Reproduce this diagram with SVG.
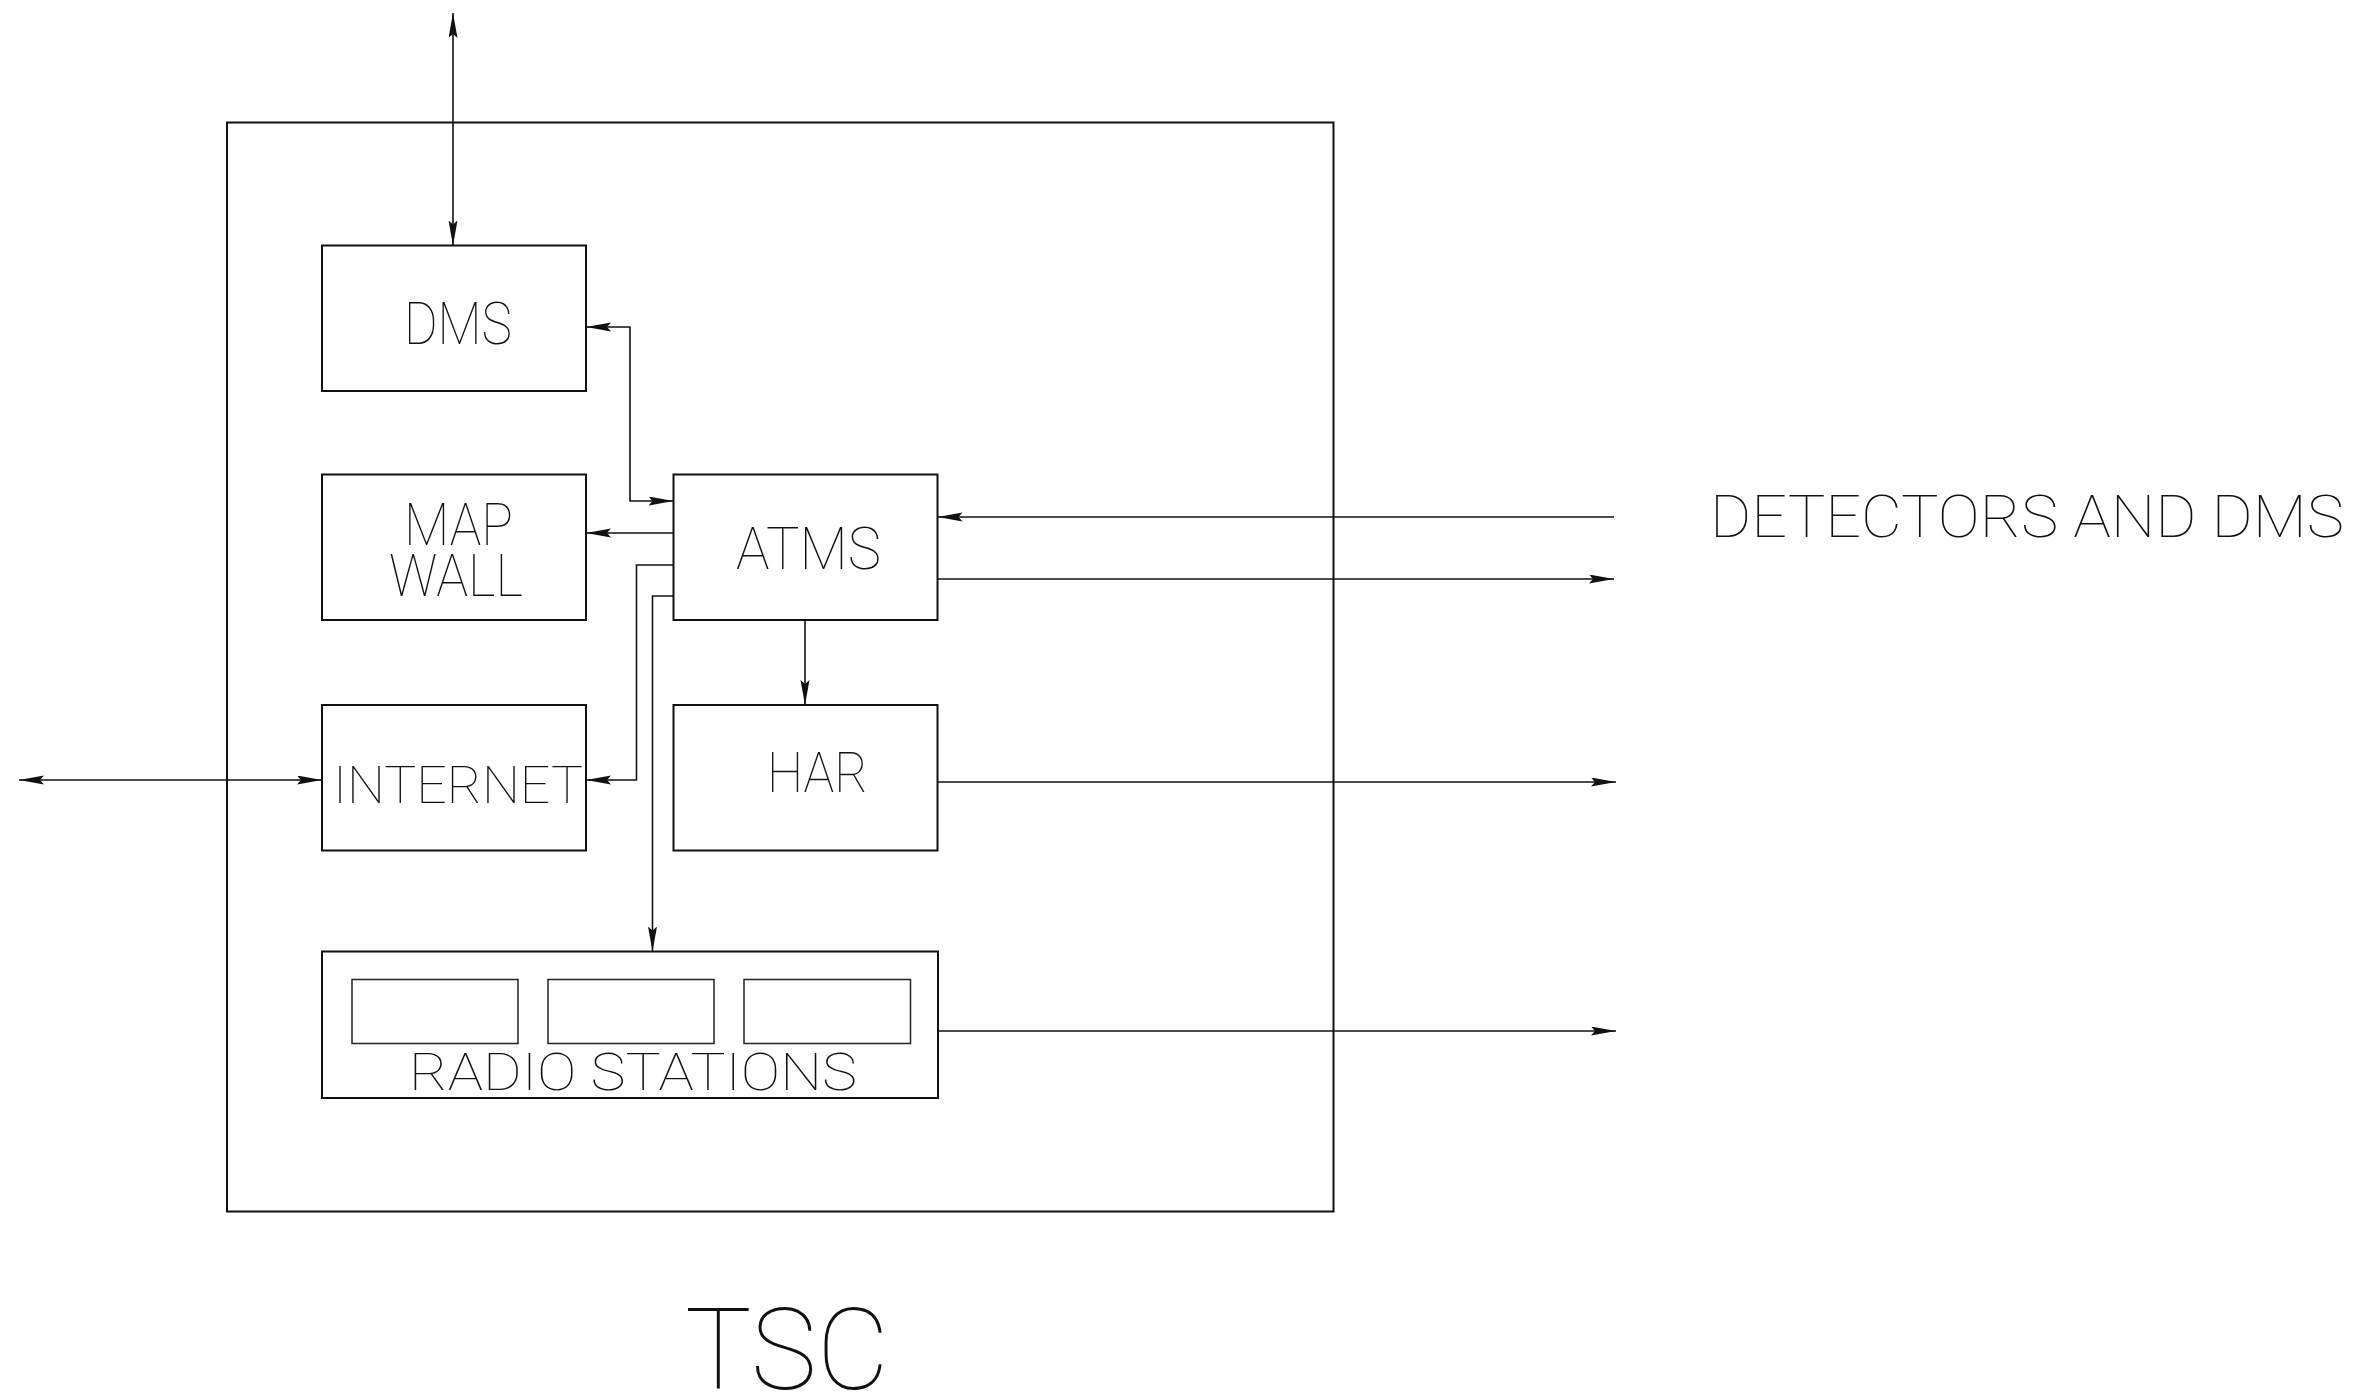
<svg xmlns="http://www.w3.org/2000/svg" width="2375" height="1396" viewBox="0 0 2375 1396">
<style>
.box{fill:none;stroke:#111;stroke-width:2}
.inner{fill:none;stroke:#222;stroke-width:1.5}
.con{fill:none;stroke:#111;stroke-width:1.6}
.lbl{font-family:Roboto,"Liberation Sans",sans-serif;font-weight:100;fill:#111}
</style>
<defs>
<marker id="ah" markerUnits="userSpaceOnUse" markerWidth="26" markerHeight="10" refX="25" refY="4.5" orient="auto-start-reverse">
<path d="M0,0 L25,4.5 L0,9 L4,4.5 z" fill="#111"/>
</marker>
</defs>
<rect width="2375" height="1396" fill="#fff"/>
<g id="tsc">
<rect class="box" x="227" y="122.5" width="1106.5" height="1089"/>
<text class="lbl" x="685" y="1389" font-size="114" textLength="204" lengthAdjust="spacingAndGlyphs">TSC</text>
</g>
<g id="dms">
<rect class="box" x="322" y="245.5" width="264" height="145.5"/>
<text class="lbl" x="404" y="344" font-size="59" textLength="108" lengthAdjust="spacingAndGlyphs">DMS</text>
</g>
<g id="mapwall">
<rect class="box" x="322" y="474.5" width="264" height="145.5"/>
<text class="lbl" x="404" y="545" font-size="59" textLength="109" lengthAdjust="spacingAndGlyphs">MAP</text>
<text class="lbl" x="389" y="595.5" font-size="59" textLength="134" lengthAdjust="spacingAndGlyphs">WALL</text>
</g>
<g id="atms">
<rect class="box" x="673.5" y="474.5" width="264" height="145.5"/>
<text class="lbl" x="736" y="569" font-size="59" textLength="145" lengthAdjust="spacingAndGlyphs">ATMS</text>
</g>
<g id="internet">
<rect class="box" x="322" y="705" width="264" height="145.5"/>
<text class="lbl" x="333" y="803" font-size="52" textLength="250" lengthAdjust="spacingAndGlyphs">INTERNET</text>
</g>
<g id="har">
<rect class="box" x="673.5" y="705" width="264" height="145.5"/>
<text class="lbl" x="767" y="792" font-size="56" textLength="101" lengthAdjust="spacingAndGlyphs">HAR</text>
</g>
<g id="radio">
<rect class="box" x="322" y="951.5" width="616" height="146.5"/>
<rect class="inner" x="352" y="979.5" width="166" height="64"/>
<rect class="inner" x="548" y="979.5" width="166" height="64"/>
<rect class="inner" x="744" y="979.5" width="166.5" height="64"/>
<text class="lbl" x="409" y="1090" font-size="52" textLength="448" lengthAdjust="spacingAndGlyphs">RADIO STATIONS</text>
</g>
<g id="detectors">
<text class="lbl" x="1710" y="537" font-size="58.5" textLength="634" lengthAdjust="spacingAndGlyphs">DETECTORS AND DMS</text>
</g>
<g id="connectors">
<path class="con" d="M453,13 V245.5" marker-start="url(#ah)" marker-end="url(#ah)"/>
<path class="con" d="M673.5,501 H630 V327 H586" marker-start="url(#ah)" marker-end="url(#ah)"/>
<path class="con" d="M673.5,533 H586" marker-end="url(#ah)"/>
<path class="con" d="M673.5,565 H636.5 V780 H586" marker-end="url(#ah)"/>
<path class="con" d="M673.5,596 H652.5 V951.5" marker-end="url(#ah)"/>
<path class="con" d="M805,620 V705" marker-end="url(#ah)"/>
<path class="con" d="M1614,517 H937.5" marker-end="url(#ah)"/>
<path class="con" d="M937.5,579 H1614" marker-end="url(#ah)"/>
<path class="con" d="M937.5,782 H1616" marker-end="url(#ah)"/>
<path class="con" d="M938,1031 H1616" marker-end="url(#ah)"/>
<path class="con" d="M19,780 H322" marker-start="url(#ah)" marker-end="url(#ah)"/>
</g>
</svg>
